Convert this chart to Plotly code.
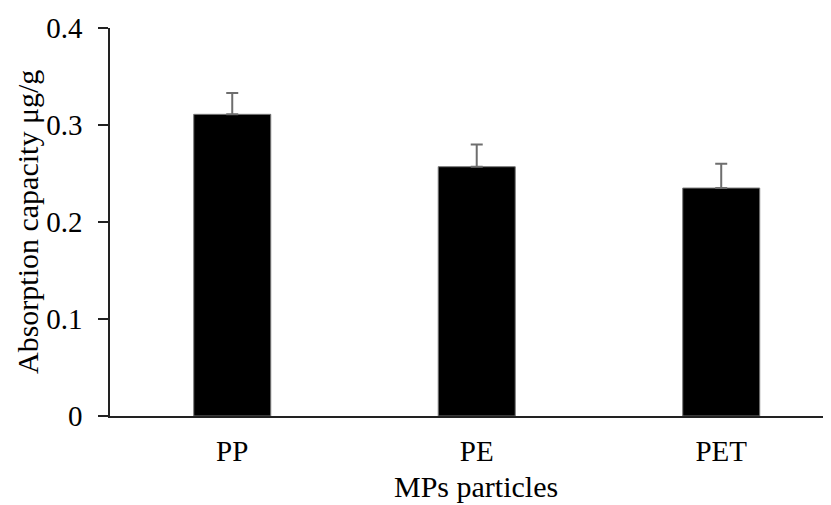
import plotly.graph_objects as go

categories = ["PP", "PE", "PET"]
values = [0.311, 0.257, 0.235]
errors = [0.022, 0.023, 0.025]
y_ticks = [0, 0.1, 0.2, 0.3, 0.4]
y_tick_labels = ["0", "0.1", "0.2", "0.3", "0.4"]
x_title = "MPs particles"
y_title = "Absorption capacity μg/g"

font_family = "Liberation Serif, Times New Roman, serif"

fig = go.Figure()
fig.add_trace(go.Bar(
    x=categories,
    y=values,
    width=0.315,
    marker=dict(color="black", line=dict(color="#777777", width=1)),
    error_y=dict(type="data", array=errors, arrayminus=[0, 0, 0], symmetric=False,
                 color="#6e6e6e", thickness=2, width=6),
))

# page body has an 8px margin, so the figure is sized to fit the window
fig.update_layout(
    width=823, height=497,
    margin=dict(l=102, r=0, t=20, b=89),
    paper_bgcolor="white", plot_bgcolor="white",
    showlegend=False,
    font=dict(family=font_family, size=29, color="black"),
)
fig.update_xaxes(
    range=[-0.5, 2.449],
    automargin=False,
    showline=True, linecolor="#222222", linewidth=1.5,
    ticks="", showgrid=False, zeroline=False,
    tickfont=dict(size=29),
    ticklabelstandoff=8,
)
fig.update_yaxes(
    range=[0, 0.4],
    automargin=False,
    tickvals=y_ticks, ticktext=y_tick_labels,
    showline=True, linecolor="#222222", linewidth=1.5,
    ticks="outside", ticklen=10, tickcolor="#222222", tickwidth=1.5,
    ticklabelstandoff=10,
    showgrid=False, zeroline=False,
    tickfont=dict(size=29),
)
fig.add_annotation(
    text=x_title, xref="paper", yref="paper", x=0.5076, y=-0.181,
    xanchor="center", yanchor="middle", showarrow=False,
    font=dict(size=30, family=font_family, color="black"),
)
fig.add_annotation(
    text=y_title, xref="paper", yref="paper", x=-0.1144, y=0.4987,
    xanchor="center", yanchor="middle", textangle=-90, showarrow=False,
    font=dict(size=30, family=font_family, color="black"),
)

fig.write_html("out.html")
